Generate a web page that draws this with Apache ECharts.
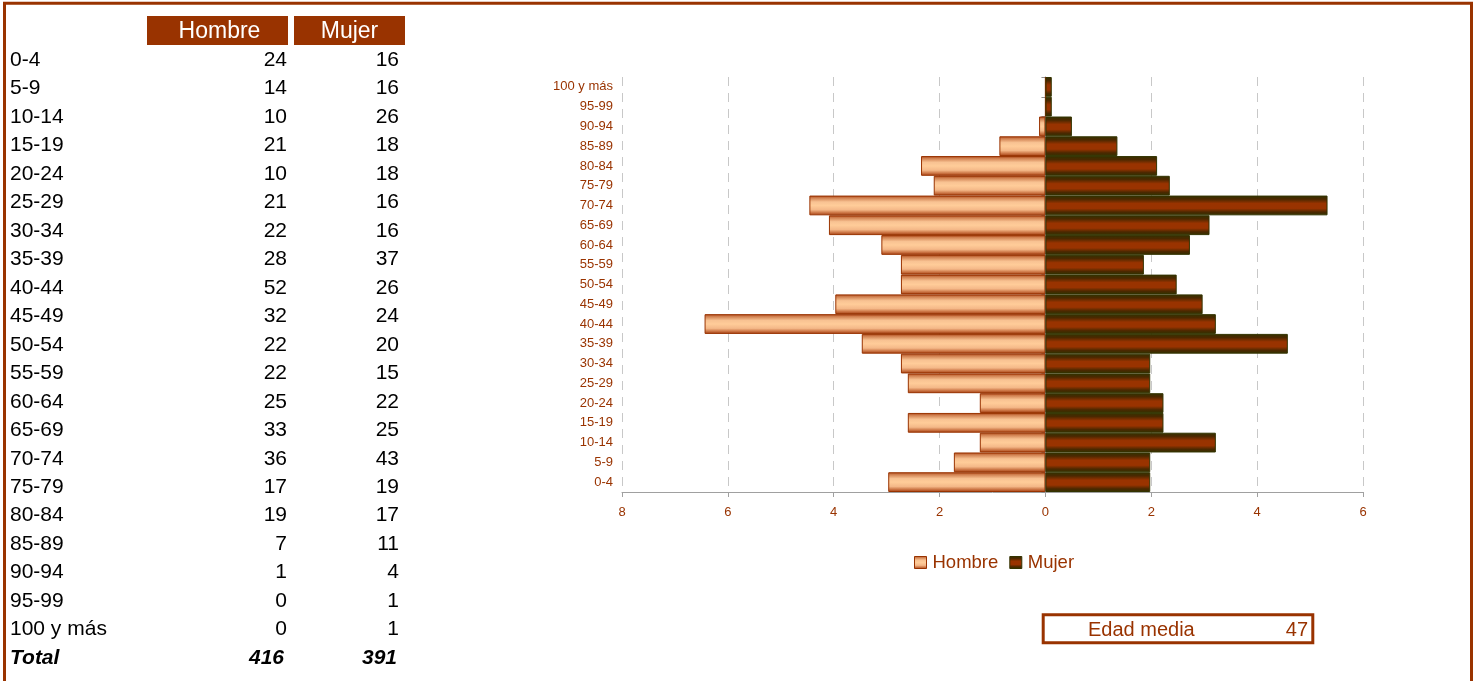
<!DOCTYPE html>
<html>
<head>
<meta charset="utf-8">
<script src="https://cdn.jsdelivr.net/npm/echarts@6/dist/echarts.min.js"></script>
<style>
html,body{margin:0;padding:0;background:#fff;}
#chart{width:1477px;height:681px;}
</style>
</head>
<body>
<div id="chart"></div>
<script>
// ---- data ----
const ageGroups = ['0-4','5-9','10-14','15-19','20-24','25-29','30-34','35-39','40-44','45-49','50-54','55-59','60-64','65-69','70-74','75-79','80-84','85-89','90-94','95-99','100 y más'];
const hombreCounts = [24,14,10,21,10,21,22,28,52,32,22,22,25,33,36,17,19,7,1,0,0];
const mujerCounts  = [16,16,26,18,18,16,16,37,26,24,20,15,22,25,43,19,17,11,4,1,1];
const hombreTotal = 416;
const mujerTotal = 391;
// percentage of total population, as plotted (Hombre drawn to the left)
const hombrePct = [2.97,1.73,1.24,2.60,1.24,2.60,2.73,3.47,6.44,3.97,2.73,2.73,3.10,4.09,4.46,2.11,2.35,0.87,0.12,0,0];
const mujerPct  = [1.98,1.98,3.22,2.23,2.23,1.98,1.98,4.58,3.22,2.97,2.48,1.86,2.73,3.10,5.33,2.35,2.11,1.36,0.50,0.12,0.12];
const xTicks = [-8,-6,-4,-2,0,2,4,6];
const seriesNames = ['Hombre','Mujer'];
const edadMediaLabel = 'Edad media';
const edadMedia = 47;

const BROWN = '#993300';
const FONT = 'Liberation Sans, Arial, sans-serif';

const chart = echarts.init(document.getElementById('chart'), null, {renderer:'canvas'});

// table graphics
const graphics = [];
graphics.push({type:'rect', shape:{x:4.5,y:3.3,width:1467,height:800}, style:{fill:null, stroke:BROWN, lineWidth:3}, silent:true});
graphics.push({type:'rect', shape:{x:147,y:16,width:141,height:29}, style:{fill:BROWN}});
graphics.push({type:'rect', shape:{x:294,y:16,width:111,height:29}, style:{fill:BROWN}});
graphics.push({type:'text', style:{text:seriesNames[0], x:219.5, y:31.5, fill:'#fff', font:'23px '+FONT, textAlign:'center', textVerticalAlign:'middle'}});
graphics.push({type:'text', style:{text:seriesNames[1], x:349.5, y:31.5, fill:'#fff', font:'23px '+FONT, textAlign:'center', textVerticalAlign:'middle'}});
const rowY0 = 60, rowStep = 28.48;
ageGroups.forEach((g,i)=>{
  const y = rowY0 + i*rowStep;
  graphics.push({type:'text', style:{text:g, x:10, y:y, fill:'#000', font:'21px '+FONT, textAlign:'left', textVerticalAlign:'middle'}});
  graphics.push({type:'text', style:{text:String(hombreCounts[i]), x:287, y:y, fill:'#000', font:'21px '+FONT, textAlign:'right', textVerticalAlign:'middle'}});
  graphics.push({type:'text', style:{text:String(mujerCounts[i]), x:399, y:y, fill:'#000', font:'21px '+FONT, textAlign:'right', textVerticalAlign:'middle'}});
});
const yT = rowY0 + ageGroups.length*rowStep;
graphics.push({type:'text', style:{text:'Total', x:10, y:yT, fill:'#000', font:'italic bold 21px '+FONT, textAlign:'left', textVerticalAlign:'middle'}});
graphics.push({type:'text', style:{text:String(hombreTotal), x:284, y:yT, fill:'#000', font:'italic bold 21px '+FONT, textAlign:'right', textVerticalAlign:'middle'}});
graphics.push({type:'text', style:{text:String(mujerTotal), x:397, y:yT, fill:'#000', font:'italic bold 21px '+FONT, textAlign:'right', textVerticalAlign:'middle'}});
// Edad media box
graphics.push({type:'rect', shape:{x:1043.2,y:614.8,width:269.6,height:28}, style:{fill:null, stroke:BROWN, lineWidth:3}});
graphics.push({type:'text', style:{text:edadMediaLabel, x:1088, y:630, fill:BROWN, font:'20px '+FONT, textAlign:'left', textVerticalAlign:'middle'}});
graphics.push({type:'text', style:{text:String(edadMedia), x:1308, y:630, fill:BROWN, font:'20px '+FONT, textAlign:'right', textVerticalAlign:'middle'}});

const hombreColor = new echarts.graphic.LinearGradient(0,0,0,1,[
  {offset:0, color:'#A84012'},
  {offset:0.12, color:'#D08050'},
  {offset:0.32, color:'#F8C292'},
  {offset:0.5, color:'#FFCC99'},
  {offset:0.72, color:'#F4B888'},
  {offset:0.88, color:'#C87040'},
  {offset:1, color:'#A03C10'}
]);
const mujerColor = new echarts.graphic.LinearGradient(0,0,0,1,[
  {offset:0, color:'#333300'},
  {offset:0.18, color:'#4A2800'},
  {offset:0.4, color:'#993300'},
  {offset:0.65, color:'#993300'},
  {offset:0.84, color:'#4A2800'},
  {offset:1, color:'#333300'}
]);

const option = {
  animation:false,
  backgroundColor:'#fff',
  textStyle:{fontFamily:FONT},
  graphic: graphics,
  legend:{
    left:914, top:553, padding:0,
    itemWidth:12, itemHeight:12, itemGap:11,
    icon:'rect',
    textStyle:{color:BROWN, fontSize:18.5, fontFamily:FONT, padding:[0,0,0,1]},
    data:[
      {name:seriesNames[0], itemStyle:{color:hombreColor, borderColor:BROWN, borderWidth:1}},
      {name:seriesNames[1], itemStyle:{color:mujerColor, borderColor:'#333300', borderWidth:1}}
    ]
  },
  grid:{left:622, right:114, top:77, bottom:189, containLabel:false},
  xAxis:{
    type:'value', min:-8, max:6, interval:2,
    axisLine:{show:true, onZero:false, lineStyle:{color:'#a0a0a0', width:1}},
    axisTick:{show:true, length:5, lineStyle:{color:'#a0a0a0'}},
    axisLabel:{color:BROWN, fontSize:13, margin:14, formatter:v=>String(Math.abs(v))},
    splitLine:{show:true, lineStyle:{color:'#c8c8c8', type:[9,7], width:1}}
  },
  yAxis:[
    {
      type:'category', data:ageGroups, position:'left',
      axisLine:{show:false, onZero:false},
      axisTick:{show:false},
      axisLabel:{color:BROWN, fontSize:13, margin:9},
      splitLine:{show:false}
    },
    {
      type:'category', data:ageGroups, position:'left',
      axisLine:{show:true, onZero:true, lineStyle:{color:'#909090', width:1}},
      axisTick:{show:true, length:4, inside:false, lineStyle:{color:'#909090'}},
      axisLabel:{show:false},
      splitLine:{show:false}
    }
  ],
  series:[
    {
      name:seriesNames[0], type:'bar', yAxisIndex:0,
      data: hombrePct.map(v=>-v),
      barGap:'-100%', barCategoryGap:'0%',
      itemStyle:{color:hombreColor, borderColor:BROWN, borderWidth:1}
    },
    {
      name:seriesNames[1], type:'bar', yAxisIndex:0,
      data: mujerPct,
      barGap:'-100%', barCategoryGap:'0%',
      itemStyle:{color:mujerColor, borderColor:'#333300', borderWidth:1}
    }
  ]
};
chart.setOption(option);
</script>
</body>
</html>
